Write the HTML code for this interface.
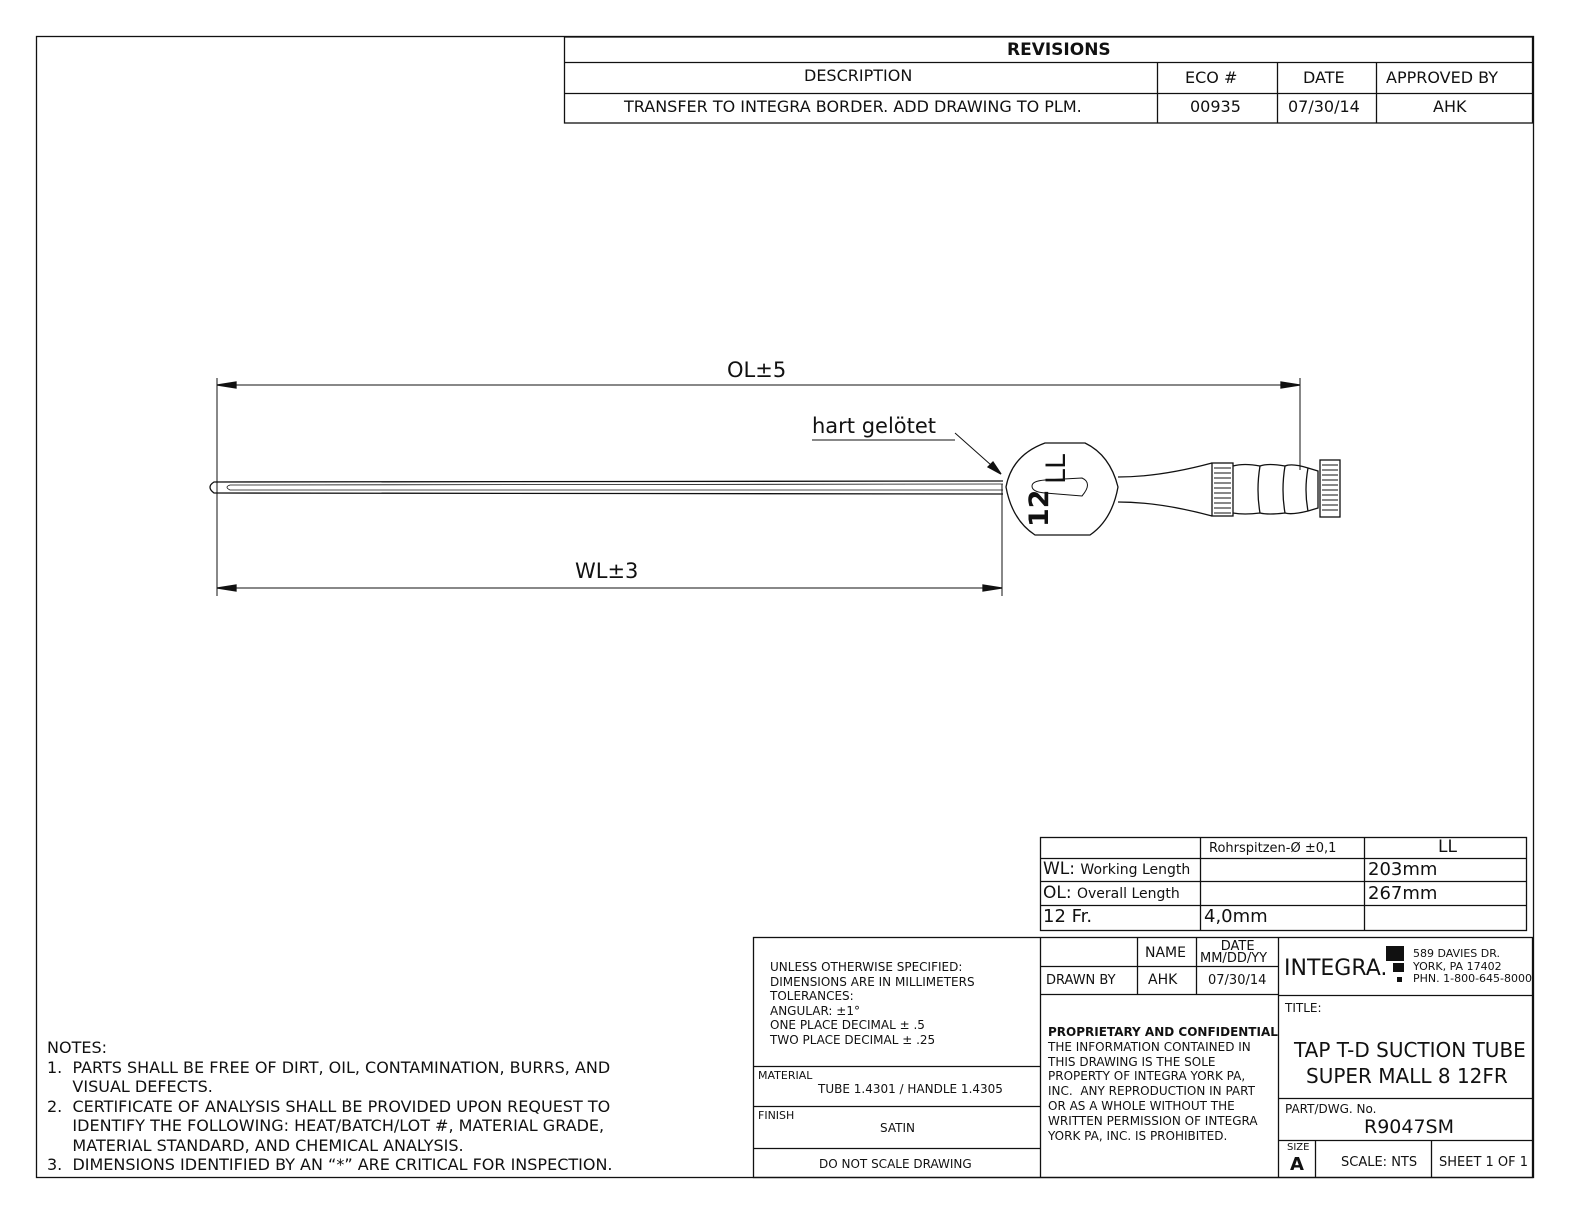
<!DOCTYPE html>
<html><head><meta charset="utf-8"><style>
body{margin:0;background:#fff;}
.c{position:relative;width:1584px;height:1224px;font-family:"DejaVu Sans","Liberation Sans",sans-serif;color:#111;}
.t{position:absolute;white-space:nowrap;line-height:1;}
svg{position:absolute;left:0;top:0;}
</style></head><body><div class="c">
<svg width="1584" height="1224" viewBox="0 0 1584 1224" fill="none" stroke="#111" stroke-width="1.3">
<rect x="36.5" y="36.5" width="1497" height="1141"/>
<!-- revisions -->
<rect x="564.5" y="37" width="968" height="86"/>
<line x1="564" y1="62.5" x2="1532" y2="62.5"/>
<line x1="564" y1="93.5" x2="1532" y2="93.5"/>
<line x1="1157.5" y1="62" x2="1157.5" y2="123"/>
<line x1="1277.5" y1="62" x2="1277.5" y2="123"/>
<line x1="1376.5" y1="62" x2="1376.5" y2="123"/>
<!-- dimensions -->
<line x1="217" y1="385" x2="1300" y2="385" stroke-width="1"/>
<line x1="1300" y1="378" x2="1300" y2="470" stroke-width="1"/>
<line x1="217" y1="378" x2="217" y2="596" stroke-width="1"/>
<line x1="217" y1="588" x2="1002" y2="588" stroke-width="1"/>
<line x1="1002" y1="484" x2="1002" y2="596" stroke-width="1"/>
<polygon points="217,385 236,382 236,388" fill="#111"/>
<polygon points="1300,385 1281,382 1281,388" fill="#111"/>
<polygon points="217,588 236,585 236,591" fill="#111"/>
<polygon points="1002,588 983,585 983,591" fill="#111"/>
<line x1="812" y1="440" x2="955" y2="440" stroke-width="1"/>
<line x1="955" y1="433" x2="1000" y2="473" stroke-width="1"/>
<polygon points="1001,474 988,467 993,462" fill="#111"/>
<!-- tube -->
<path d="M1003 481 L214 482 Q206 487 214 493 L1003 494"/>
<path d="M1003 484 L230 485 Q224 487 230 490 L1003 490" stroke-width="0.8"/>
<!-- handle disc -->
<path d="M1045 443 L1085 443 Q1110 455 1118 487 Q1112 520 1090 535 L1035 535 Q1012 520 1006 487 Q1012 455 1045 443 Z"/>
<path d="M1032 486 Q1032 481 1045 480 L1082 478 Q1093 483 1082 496 L1045 493 Q1032 492 1032 486Z" stroke-width="1"/>
<!-- neck -->
<path d="M1118 477 Q1160 477 1212 463 M1118 502 Q1160 502 1212 516"/>
<!-- grip -->
<rect x="1212" y="463" width="21" height="53" fill="#fff"/>
<path d="M1214 468h17M1214 473h17M1214 478h17M1214 483h17M1214 488h17M1214 493h17M1214 498h17M1214 503h17M1214 508h17M1214 513h17" stroke-width="1"/>
<path d="M1233 466 Q1244 463 1260 466 Q1268 463 1285 466 Q1292 463 1308 468 L1318 471 L1318 508 L1308 511 Q1292 515 1285 513 Q1268 515 1260 513 Q1244 515 1233 513"/>
<path d="M1260 466 Q1256 490 1260 513 M1285 466 Q1281 490 1285 513 M1308 468 Q1304 490 1308 511"/>
<rect x="1320" y="460" width="20" height="57" fill="#fff"/>
<path d="M1322 465h16M1322 470h16M1322 475h16M1322 480h16M1322 485h16M1322 490h16M1322 495h16M1322 500h16M1322 505h16M1322 510h16" stroke-width="1"/>
<!-- lower table -->
<rect x="1040.5" y="837.5" width="486" height="93"/>
<line x1="1040" y1="858.5" x2="1526" y2="858.5"/>
<line x1="1040" y1="881.5" x2="1526" y2="881.5"/>
<line x1="1040" y1="905.5" x2="1526" y2="905.5"/>
<line x1="1200.5" y1="837" x2="1200.5" y2="930"/>
<line x1="1364.5" y1="837" x2="1364.5" y2="930"/>
<!-- title block -->
<rect x="753.5" y="937.5" width="779" height="240"/>
<line x1="1040.5" y1="937" x2="1040.5" y2="1177"/>
<line x1="1278.5" y1="937" x2="1278.5" y2="1177"/>
<line x1="753" y1="1066.5" x2="1040" y2="1066.5"/>
<line x1="753" y1="1106.5" x2="1040" y2="1106.5"/>
<line x1="753" y1="1148.5" x2="1040" y2="1148.5"/>
<line x1="1040" y1="966.5" x2="1278" y2="966.5"/>
<line x1="1040" y1="994.5" x2="1278" y2="994.5"/>
<line x1="1137.5" y1="937" x2="1137.5" y2="994"/>
<line x1="1196.5" y1="937" x2="1196.5" y2="994"/>
<line x1="1278" y1="995.5" x2="1532" y2="995.5"/>
<line x1="1278" y1="1098.5" x2="1532" y2="1098.5"/>
<line x1="1278" y1="1140.5" x2="1532" y2="1140.5"/>
<line x1="1315.5" y1="1140" x2="1315.5" y2="1177"/>
<line x1="1431.5" y1="1140" x2="1431.5" y2="1177"/>
<!-- logo -->
<rect x="1386" y="946" width="18" height="15" fill="#111" stroke="none"/>
<rect x="1393" y="963" width="11" height="9" fill="#111" stroke="none"/>
<rect x="1397" y="977" width="5" height="5" fill="#111" stroke="none"/>
</svg>
<div class="t" style="left:1007px;top:42px;font-size:17px;font-weight:bold;">REVISIONS</div>
<div class="t" style="left:804px;top:68px;font-size:16px;">DESCRIPTION</div>
<div class="t" style="left:1185px;top:70px;font-size:16px;">ECO #</div>
<div class="t" style="left:1303px;top:70px;font-size:16px;">DATE</div>
<div class="t" style="left:1386px;top:70px;font-size:16px;">APPROVED BY</div>
<div class="t" style="left:624px;top:99px;font-size:16px;">TRANSFER TO INTEGRA BORDER. ADD DRAWING TO PLM.</div>
<div class="t" style="left:1190px;top:99px;font-size:16px;">00935</div>
<div class="t" style="left:1288px;top:99px;font-size:16px;">07/30/14</div>
<div class="t" style="left:1433px;top:99px;font-size:16px;">AHK</div>
<div class="t" style="left:727px;top:360px;font-size:21px;">OL±5</div>
<div class="t" style="left:575px;top:561px;font-size:21px;">WL±3</div>
<div class="t" style="left:812px;top:416px;font-size:21px;">hart gelötet</div>
<div class="t" style="left:1026px;top:468px;font-size:27px;font-weight:bold;transform:rotate(-90deg);transform-origin:0 0;top:527px;">12</div>
<div class="t" style="left:1043px;top:484px;font-size:27px;transform:rotate(-90deg);transform-origin:0 0;">LL</div>
<div class="t" style="left:1209px;top:842px;font-size:13px;">Rohrspitzen-Ø ±0,1</div>
<div class="t" style="left:1438px;top:839px;font-size:17px;">LL</div>
<div class="t" style="left:1043px;top:861px;font-size:17px;">WL: <span style="font-size:14px">Working Length</span></div>
<div class="t" style="left:1368px;top:861px;font-size:18px;">203mm</div>
<div class="t" style="left:1043px;top:885px;font-size:17px;">OL: <span style="font-size:14px">Overall Length</span></div>
<div class="t" style="left:1368px;top:885px;font-size:18px;">267mm</div>
<div class="t" style="left:1043px;top:908px;font-size:18px;">12 Fr.</div>
<div class="t" style="left:1204px;top:908px;font-size:18px;">4,0mm</div>
<div class="t" style="left:770px;top:960px;font-size:12px;line-height:14.6px;">UNLESS OTHERWISE SPECIFIED:<br>DIMENSIONS ARE IN MILLIMETERS<br>TOLERANCES:<br>ANGULAR: ±1°<br>ONE PLACE DECIMAL ± .5<br>TWO PLACE DECIMAL ± .25</div>
<div class="t" style="left:758px;top:1070px;font-size:11px;">MATERIAL</div>
<div class="t" style="left:818px;top:1083px;font-size:12px;">TUBE 1.4301 / HANDLE 1.4305</div>
<div class="t" style="left:758px;top:1110px;font-size:11px;">FINISH</div>
<div class="t" style="left:880px;top:1122px;font-size:12px;">SATIN</div>
<div class="t" style="left:819px;top:1158px;font-size:12px;">DO NOT SCALE DRAWING</div>
<div class="t" style="left:1145px;top:946px;font-size:14px;">NAME</div>
<div class="t" style="left:1200px;top:941px;font-size:13px;line-height:12px;text-align:center;">&nbsp;&nbsp;DATE<br>MM/DD/YY</div>
<div class="t" style="left:1046px;top:974px;font-size:13px;">DRAWN BY</div>
<div class="t" style="left:1148px;top:973px;font-size:14px;">AHK</div>
<div class="t" style="left:1208px;top:974px;font-size:13px;">07/30/14</div>
<div class="t" style="left:1048px;top:1025px;font-size:12px;line-height:14.8px;"><b>PROPRIETARY AND CONFIDENTIAL</b><br>THE INFORMATION CONTAINED IN<br>THIS DRAWING IS THE SOLE<br>PROPERTY OF INTEGRA YORK PA,<br>INC.&nbsp; ANY REPRODUCTION IN PART<br>OR AS A WHOLE WITHOUT THE<br>WRITTEN PERMISSION OF INTEGRA<br>YORK PA, INC. IS PROHIBITED.</div>
<div class="t" style="left:1284px;top:958px;font-size:22px;">INTEGRA.</div>
<div class="t" style="left:1413px;top:948px;font-size:11px;line-height:12.5px;">589 DAVIES DR.<br>YORK, PA 17402<br>PHN. 1-800-645-8000</div>
<div class="t" style="left:1285px;top:1002px;font-size:12px;">TITLE:</div>
<div class="t" style="left:1294px;top:1040px;font-size:20px;">TAP T-D SUCTION TUBE</div>
<div class="t" style="left:1306px;top:1066px;font-size:20px;">SUPER MALL 8 12FR</div>
<div class="t" style="left:1285px;top:1103px;font-size:12px;">PART/DWG. No.</div>
<div class="t" style="left:1364px;top:1118px;font-size:19px;">R9047SM</div>
<div class="t" style="left:1287px;top:1143px;font-size:10px;">SIZE</div>
<div class="t" style="left:1290px;top:1156px;font-size:18px;font-weight:bold;">A</div>
<div class="t" style="left:1341px;top:1156px;font-size:13px;">SCALE: NTS</div>
<div class="t" style="left:1439px;top:1156px;font-size:13px;">SHEET 1 OF 1</div>
<div class="t" style="left:47px;top:1038px;font-size:16px;line-height:19.5px;">NOTES:<br>1.&nbsp; PARTS SHALL BE FREE OF DIRT, OIL, CONTAMINATION, BURRS, AND<br>&nbsp;&nbsp;&nbsp;&nbsp;&nbsp;VISUAL DEFECTS.<br>2.&nbsp; CERTIFICATE OF ANALYSIS SHALL BE PROVIDED UPON REQUEST TO<br>&nbsp;&nbsp;&nbsp;&nbsp;&nbsp;IDENTIFY THE FOLLOWING: HEAT/BATCH/LOT #, MATERIAL GRADE,<br>&nbsp;&nbsp;&nbsp;&nbsp;&nbsp;MATERIAL STANDARD, AND CHEMICAL ANALYSIS.<br>3.&nbsp; DIMENSIONS IDENTIFIED BY AN “*” ARE CRITICAL FOR INSPECTION.</div>
</div></body></html>
